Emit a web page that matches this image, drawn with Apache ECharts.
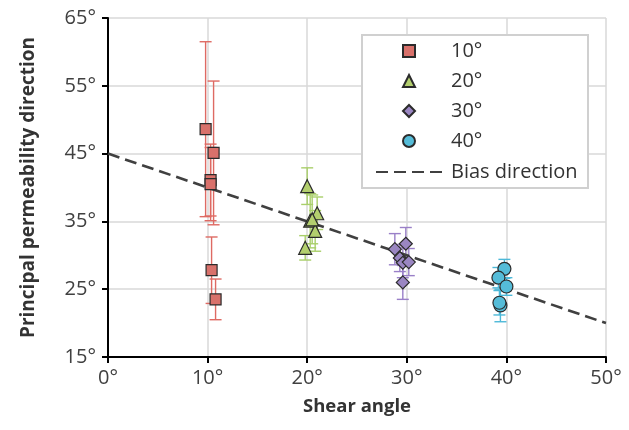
<!DOCTYPE html>
<html><head><meta charset="utf-8">
<script src="https://cdn.jsdelivr.net/npm/echarts@6/dist/echarts.min.js"></script>
<style>html,body{margin:0;padding:0;background:#fff}#c{width:629px;height:430px}</style>
</head><body><div id="c"></div>
<script>
// ---- data ----
const xTicks = [0, 10, 20, 30, 40, 50];
const yTicks = [15, 25, 35, 45, 55, 65];
const s10x = [9.8, 10.6, 10.3, 10.3, 10.4, 10.8];
const s10y = [48.6, 45.1, 41.1, 40.5, 27.8, 23.5];
const s10e = [12.9, 10.6, 5.3, 5.4, 4.9, 3.0];
const s20x = [20.0, 20.3, 19.8, 21.0, 20.8, 20.5];
const s20y = [40.2, 35.1, 31.1, 36.2, 33.6, 35.3];
const s20e = [2.7, 4.0, 1.8, 2.4, 3.0, 3.6];
const s30x = [28.8, 29.3, 29.6, 29.9, 30.2, 29.6];
const s30y = [30.9, 29.6, 28.9, 31.7, 29.0, 26.0];
const s30e = [2.3, 2.0, 2.2, 2.4, 2.0, 2.5];
const s40x = [39.8, 39.2, 40.0, 39.4, 39.3];
const s40y = [28.0, 26.7, 25.4, 22.6, 23.0];
const s40e = [1.4, 1.5, 1.3, 2.4, 1.8];
const biasX = [0, 50];
const biasY = [45, 20];
const names = ['10°', '20°', '30°', '40°', 'Bias direction'];

const font = 'Open Sans';
const groups = [
  {name: names[0], x: s10x, y: s10y, e: s10e, sym: 'rect', size: 11, fill: '#d9716b', bar: '#de6a63'},
  {name: names[1], x: s20x, y: s20y, e: s20e, sym: 'triangle', size: 13, fill: '#b3cf6e', bar: '#a9cf6a'},
  {name: names[2], x: s30x, y: s30y, e: s30e, sym: 'diamond', size: 13, fill: '#9a86c2', bar: '#9a80c8'},
  {name: names[3], x: s40x, y: s40y, e: s40e, sym: 'circle', size: 13, fill: '#55bcd8', bar: '#4cb8d8'}
];

const series = [];
groups.forEach(g => {
  series.push({
    type: 'custom', name: g.name + '_err', z: 2, silent: true,
    data: g.x.map((v, i) => [v, g.y[i], g.e[i]]),
    renderItem: function (params, api) {
      const x = api.value(0), y = api.value(1), e = api.value(2);
      const top = api.coord([x, y + e]);
      const bot = api.coord([x, y - e]);
      const hw = 6;
      const st = {stroke: g.bar, lineWidth: 1.4};
      return {type: 'group', children: [
        {type: 'line', shape: {x1: top[0], y1: top[1], x2: bot[0], y2: bot[1]}, style: st},
        {type: 'line', shape: {x1: top[0] - hw, y1: top[1], x2: top[0] + hw, y2: top[1]}, style: st},
        {type: 'line', shape: {x1: bot[0] - hw, y1: bot[1], x2: bot[0] + hw, y2: bot[1]}, style: st}
      ]};
    }
  });
});
groups.forEach(g => {
  series.push({
    type: 'scatter', name: g.name, z: 5, symbol: g.sym, symbolSize: g.size,
    itemStyle: {color: g.fill, borderColor: '#2b2b2b', borderWidth: 1.2, opacity: 1},
    data: g.x.map((v, i) => [v, g.y[i]])
  });
});
series.push({
  type: 'line', name: names[4], z: 4, symbol: 'none', showSymbol: false,
  itemStyle: {color: '#404040'},
  lineStyle: {color: '#404040', width: 2.6, type: [12, 6]},
  data: biasX.map((v, i) => [v, biasY[i]])
});

const labelStyle = {fontFamily: font, fontSize: 20, color: '#404040'};
const chart = echarts.init(document.getElementById('c'), null, {renderer: 'canvas'});
chart.setOption({
  animation: false,
  backgroundColor: '#fff',
  grid: {left: 108, right: 23, top: 18, bottom: 73, containLabel: false},
  xAxis: {
    type: 'value', min: 0, max: 50, interval: 10,
    name: 'Shear angle', nameLocation: 'middle', nameGap: 40,
    nameTextStyle: {fontFamily: font, fontWeight: 'bold', fontSize: 18.5, color: '#333'},
    axisLine: {onZero: false, lineStyle: {color: '#000', width: 2}},
    axisTick: {show: true, inside: false, length: 6, lineStyle: {color: '#000', width: 2}},
    axisLabel: Object.assign({formatter: v => v + '°', margin: 11}, labelStyle),
    splitLine: {show: true, lineStyle: {color: '#d9d9d9', width: 1.5}}
  },
  yAxis: {
    type: 'value', min: 15, max: 65, interval: 10,
    name: 'Principal permeability direction', nameLocation: 'middle', nameGap: 70, nameRotate: 90,
    nameTextStyle: {fontFamily: font, fontWeight: 'bold', fontSize: 19, color: '#333'},
    axisLine: {onZero: false, lineStyle: {color: '#000', width: 2}},
    axisTick: {show: true, inside: false, length: 6, lineStyle: {color: '#000', width: 2}},
    axisLabel: Object.assign({formatter: v => v + '°', margin: 12}, labelStyle),
    splitLine: {show: true, lineStyle: {color: '#d9d9d9', width: 1.5}}
  },
  graphic: [{
    type: 'rect', z: 3, shape: {x: 362, y: 35, width: 226, height: 153},
    style: {fill: '#fff', stroke: '#d0d0d0', lineWidth: 2}
  }],
  legend: [{
    data: names.slice(0, 4), orient: 'vertical', left: 402, top: 40,
    padding: 0, itemWidth: 12, itemHeight: 12, itemGap: 8, z: 5,
    textStyle: {fontFamily: font, fontSize: 20, color: '#333', lineHeight: 22, padding: [0, 0, 0, 31]},
    selectedMode: false
  }, {
    data: [{name: names[4], itemStyle: {opacity: 0}}], orient: 'vertical', left: 375, top: 161,
    padding: 0, itemWidth: 67, itemHeight: 12, z: 5,
    textStyle: {fontFamily: font, fontSize: 20, color: '#333', lineHeight: 22, padding: [0, 0, 0, 3]},
    selectedMode: false
  }],
  series: series
});
</script></body></html>
